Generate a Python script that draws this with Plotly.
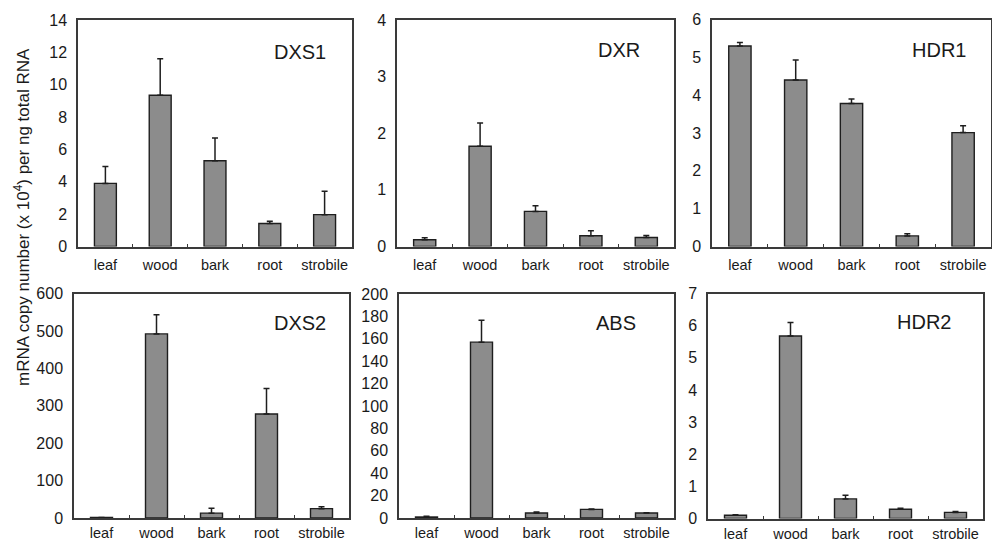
import plotly.graph_objects as go

categories = ["leaf", "wood", "bark", "root", "strobile"]

genes = ["DXS1", "DXR", "HDR1", "DXS2", "ABS", "HDR2"]

dxs1_vals = [3.9, 9.35, 5.3, 1.42, 1.97]
dxs1_err = [1.05, 2.25, 1.4, 0.14, 1.44]

dxr_vals = [0.12, 1.77, 0.62, 0.19, 0.16]
dxr_err = [0.035, 0.41, 0.1, 0.09, 0.035]

hdr1_vals = [5.3, 4.4, 3.78, 0.28, 3.01]
hdr1_err = [0.09, 0.53, 0.12, 0.06, 0.18]

dxs2_vals = [1.5, 492, 13, 278, 25]
dxs2_err = [0, 51, 13, 68, 5]

abs_vals = [0.9, 157, 4.5, 7.7, 4.4]
abs_err = [0.6, 19.5, 0.9, 0.3, 0.3]

hdr2_vals = [0.1, 5.68, 0.61, 0.29, 0.19]
hdr2_err = [0.02, 0.42, 0.11, 0.03, 0.03]

values = [dxs1_vals, dxr_vals, hdr1_vals, dxs2_vals, abs_vals, hdr2_vals]
errors = [dxs1_err, dxr_err, hdr1_err, dxs2_err, abs_err, hdr2_err]

y_max = [14, 4, 6, 600, 200, 7]
y_step = [2, 1, 1, 100, 20, 1]

y_title = "mRNA copy number (x 10<sup>4</sup>) per ng total RNA"

W, H = 992, 543
# panel boxes in pixels: left, right, top, bottom
boxes = [
    (78, 352, 20, 246.5),
    (397, 674, 20, 246.5),
    (712, 991, 19.5, 246.5),
    (74, 349, 293.5, 518),
    (399, 674, 294, 518),
    (708, 983, 293.5, 518.5),
]
label_pos = [(328, 52), (642, 50), (968, 50), (328, 323), (638, 323), (953, 322)]
standoffs = [4, 4, 4, 1, 1, 1]

FONT = "Liberation Sans, Arial, sans-serif"
fig = go.Figure()
layout = dict(
    width=W, height=H,
    margin=dict(l=0, r=0, t=0, b=0, autoexpand=False),
    paper_bgcolor="white", plot_bgcolor="white",
    showlegend=False,
    bargap=0.6,
    font=dict(family=FONT, size=15, color="#1a1a1a"),
    annotations=[],
)

for i, g in enumerate(genes):
    n = "" if i == 0 else str(i + 1)
    l, r, t, b = boxes[i]
    fig.add_trace(go.Bar(
        x=categories, y=values[i],
        xaxis="x" + n, yaxis="y" + n,
        marker=dict(color="#8c8c8c", line=dict(color="#1e1e1e", width=1.4)),
        error_y=dict(type="data", symmetric=False, array=errors[i],
                     arrayminus=[0] * 5, color="#1e1e1e", thickness=1.5, width=3),
        width=0.4,
    ))
    layout["xaxis" + n] = dict(
        domain=[l / W, r / W], anchor="y" + n, automargin=False,
        showline=True, mirror=True, linecolor="#3a3a3a", linewidth=1.5,
        ticks="inside", ticklen=3, tickcolor="#3a3a3a", tickson="boundaries",
        ticklabelstandoff=standoffs[i], showgrid=False, zeroline=False, tickangle=0,
        tickfont=dict(size=14.5, color="#1a1a1a"),
        categoryorder="array", categoryarray=categories,
    )
    layout["yaxis" + n] = dict(
        domain=[1 - b / H, 1 - t / H], anchor="x" + n, automargin=False,
        range=[0, y_max[i]], dtick=y_step[i], tick0=0,
        showline=True, mirror=True, linecolor="#3a3a3a", linewidth=1.5,
        ticks="", showgrid=False, zeroline=False,
        ticklabelstandoff=6,
        tickfont=dict(size=16, color="#1a1a1a"),
    )
    lx, ly = label_pos[i]
    layout["annotations"].append(dict(
        text=g, x=lx / W, y=1 - ly / H, xref="paper", yref="paper",
        xanchor="right", yanchor="middle", showarrow=False,
        font=dict(size=20, color="#1a1a1a", family=FONT),
    ))

layout["annotations"].append(dict(
    text=y_title, x=22 / W, y=1 - 217 / H, xref="paper", yref="paper",
    xanchor="center", yanchor="middle", textangle=-90, showarrow=False,
    font=dict(size=17, color="#1a1a1a", family=FONT),
))

fig.update_layout(**layout)
fig.write_html("out.html")
